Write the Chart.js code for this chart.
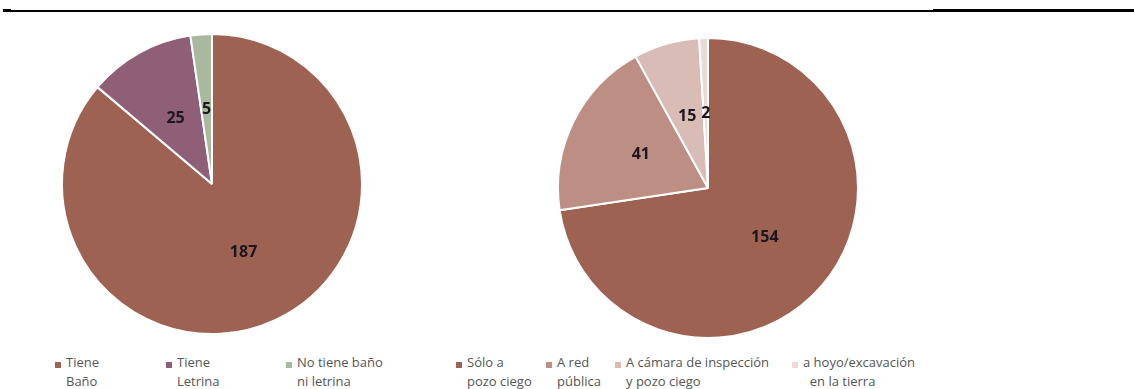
<!DOCTYPE html>
<html>
<head>
<meta charset="utf-8">
<script src="https://cdn.jsdelivr.net/npm/chart.js@4"></script>
<style>
  html, body { margin: 0; padding: 0; background: #fff; }
  body { width: 1134px; height: 389px; position: relative; overflow: hidden; font-family: "Open Sans", sans-serif; }
  .rule { position: absolute; background: #000; }
  .pie { position: absolute; }
  .leg-mark { position: absolute; width: 6px; height: 6px; }
  .leg-text { position: absolute; font-size: 13px; line-height: 19px; color: #555555; white-space: pre; }
</style>
</head>
<body>
<div class="rule" style="left:3px;top:9px;width:8px;height:3px;"></div>
<div class="rule" style="left:11px;top:10px;width:922px;height:2px;"></div>
<div class="rule" style="left:933px;top:9px;width:201px;height:3px;"></div>

<canvas id="c1" class="pie" width="320" height="320" style="left:52px;top:24px;"></canvas>
<canvas id="c2" class="pie" width="320" height="320" style="left:548px;top:28px;"></canvas>
<div id="legends"></div>

<script>
// ---- Data ----
const bathCategories = [["Tiene", "Baño"], ["Tiene", "Letrina"], ["No tiene baño", "ni letrina"]];
const bathValues = [187, 25, 5];
const bathColors = ["#9d6252", "#8f5f77", "#a9b9a0"];

const drainCategories = [["Sólo a", "pozo ciego"], ["A red", "pública"], ["A cámara de inspección", "y pozo ciego"], ["a hoyo/excavación", "  en la tierra"]];
const drainValues = [154, 41, 15, 2];
const drainColors = ["#9d6252", "#bd8f84", "#d8bcb5", "#e9dbd6"];

// ---- Layout (legend x positions) ----
const bathLegendX = [55, 166, 286];
const drainLegendX = [456, 546, 615, 792];

const valueLabels = {
  id: 'valueLabels',
  afterDatasetsDraw(chart) {
    const ctx = chart.ctx;
    const meta = chart.getDatasetMeta(0);
    const data = chart.data.datasets[0].data;
    ctx.save();
    ctx.font = 'bold 16px "Open Sans", sans-serif';
    ctx.fillStyle = '#1d171d';
    ctx.textAlign = 'center';
    ctx.textBaseline = 'middle';
    meta.data.forEach((arc, i) => {
      const p = arc.tooltipPosition();
      ctx.fillText(String(data[i]), p.x, p.y);
    });
    ctx.restore();
  }
};

function makePie(id, labels, values, colors) {
  new Chart(document.getElementById(id), {
    type: 'pie',
    data: {
      labels: labels,
      datasets: [{
        data: values,
        backgroundColor: colors,
        borderColor: '#ffffff',
        borderWidth: 2
      }]
    },
    options: {
      responsive: false,
      animation: false,
      devicePixelRatio: 1,
      layout: { padding: 9 },
      plugins: { legend: { display: false }, tooltip: { enabled: false } }
    },
    plugins: [valueLabels]
  });
}

makePie('c1', bathCategories, bathValues, bathColors);
makePie('c2', drainCategories, drainValues, drainColors);

function makeLegend(labels, colors, xs) {
  const host = document.getElementById('legends');
  labels.forEach((lines, i) => {
    const m = document.createElement('div');
    m.className = 'leg-mark';
    m.style.left = xs[i] + 'px';
    m.style.top = '362px';
    m.style.background = colors[i];
    host.appendChild(m);
    const t = document.createElement('div');
    t.className = 'leg-text';
    t.style.left = (xs[i] + 11) + 'px';
    t.style.top = '353px';
    t.textContent = lines.join('\n');
    host.appendChild(t);
  });
}
makeLegend(bathCategories, bathColors, bathLegendX);
makeLegend(drainCategories, drainColors, drainLegendX);
</script>
</body>
</html>
